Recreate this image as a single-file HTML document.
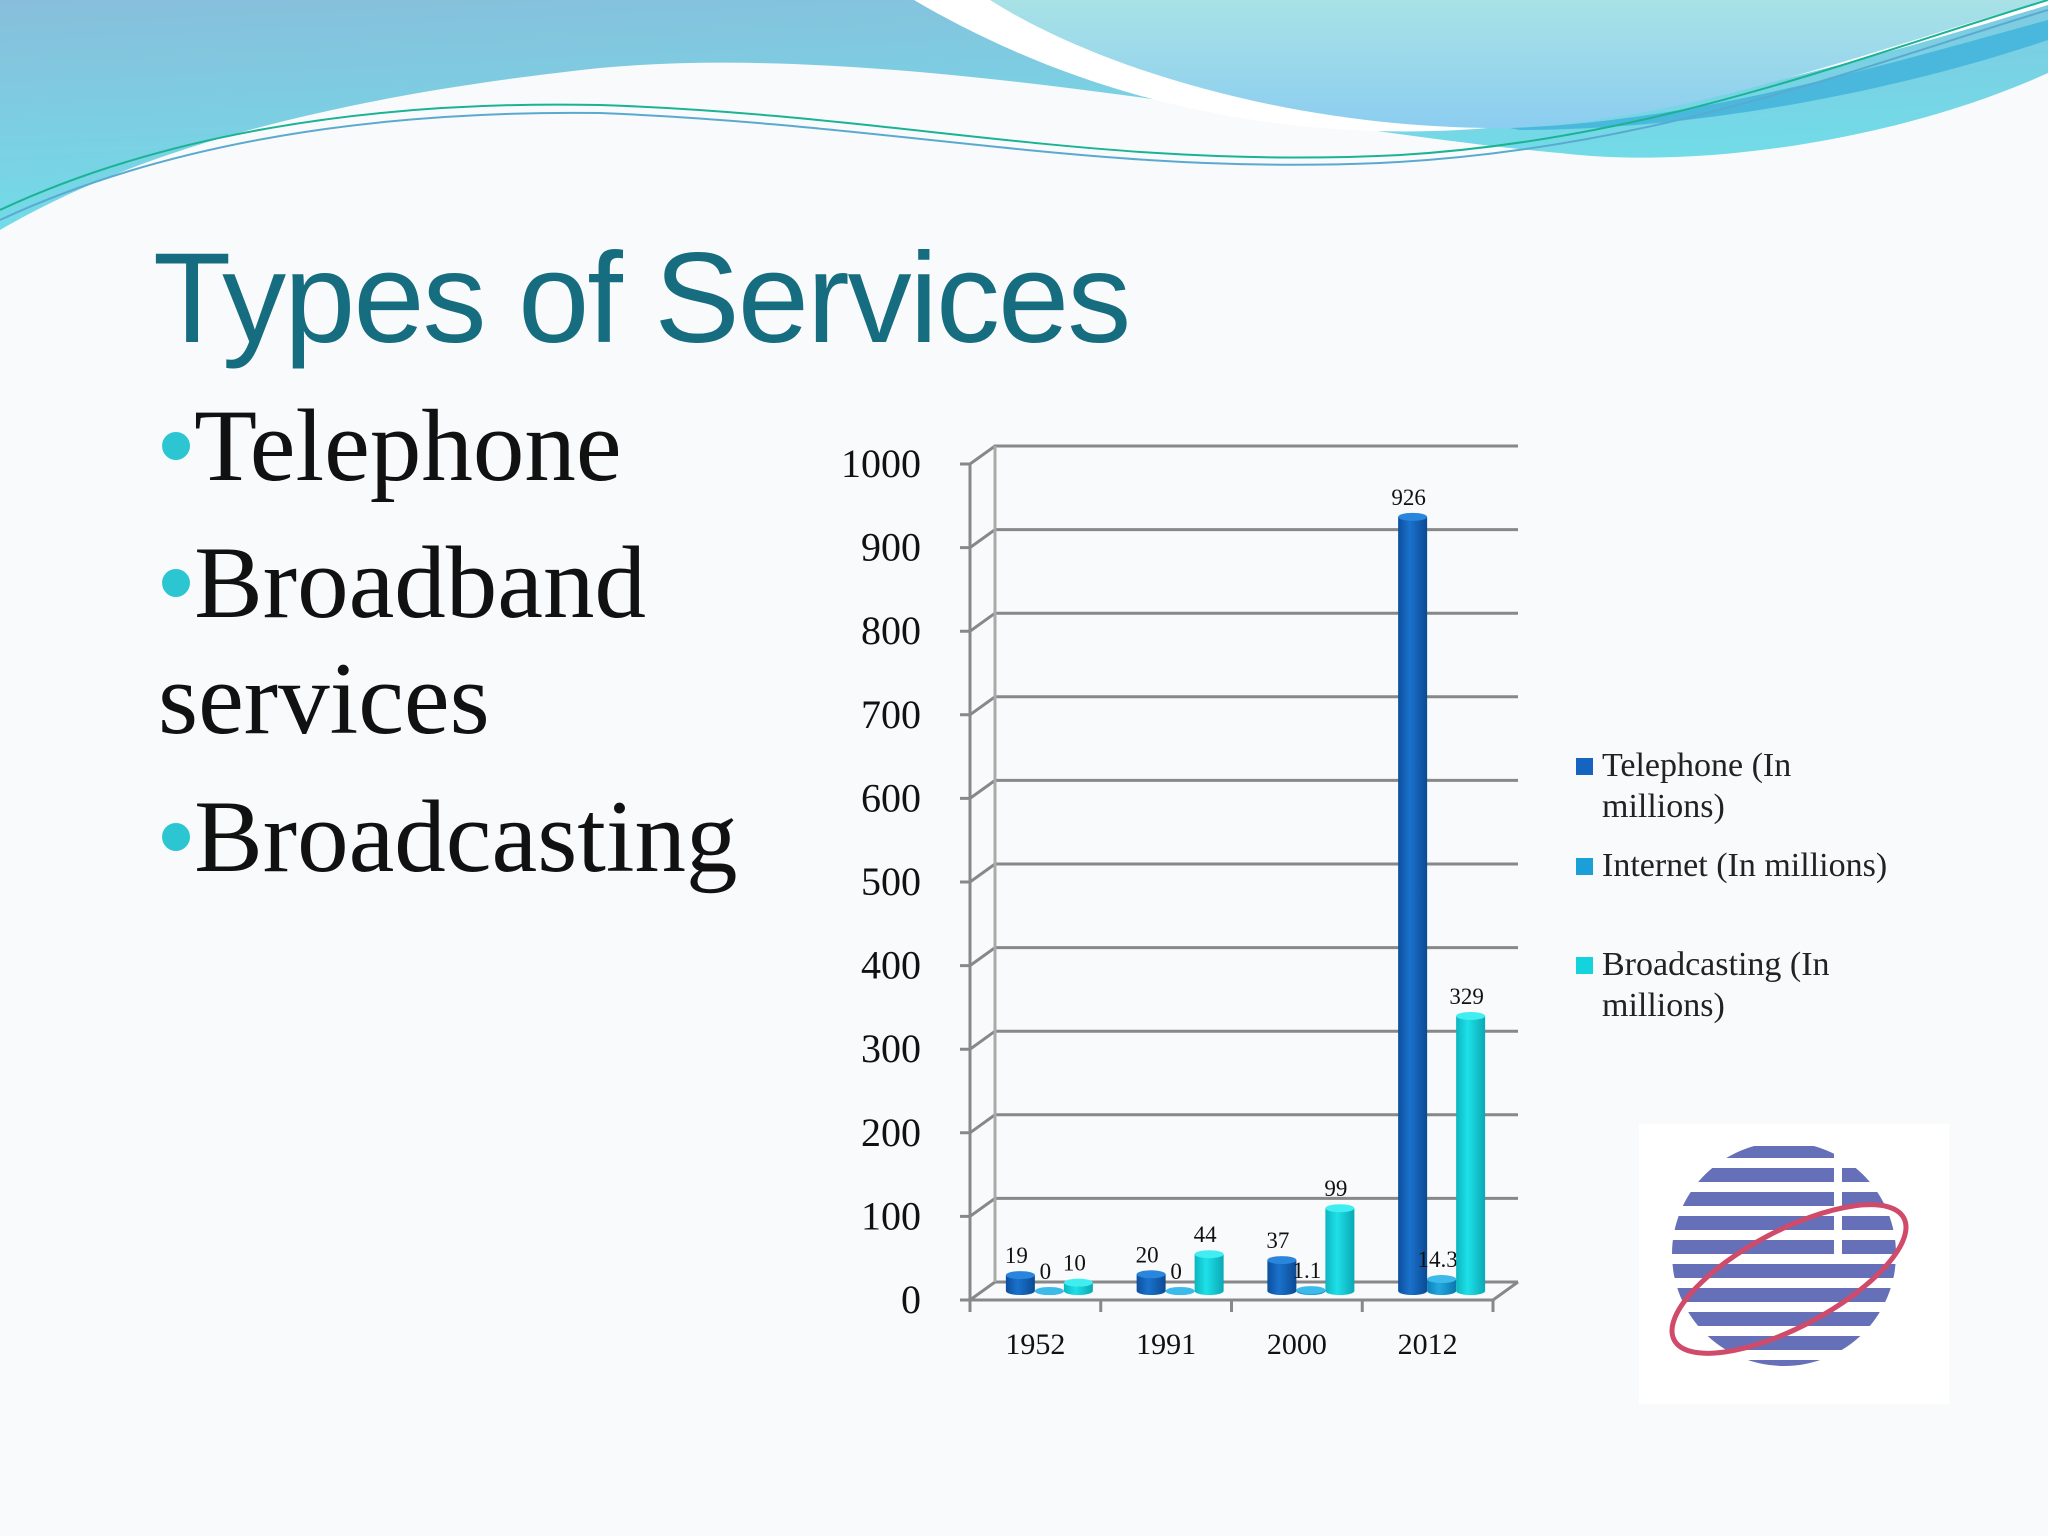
<!DOCTYPE html>
<html><head><meta charset="utf-8"><style>
html,body{margin:0;padding:0;}
body{width:2048px;height:1536px;overflow:hidden;background:#f9fafb;position:relative;font-family:"Liberation Serif",serif;}
.title{position:absolute;left:153px;top:225px;font-family:"Liberation Sans",sans-serif;font-size:128px;color:#176d80;letter-spacing:-2px;white-space:nowrap;}
.bul{position:absolute;left:158px;font-size:103px;color:#111;white-space:nowrap;line-height:1;}
.bul span{color:#2cc6d2;font-family:"Liberation Sans",sans-serif;}
</style></head><body>
<svg width="2048" height="260" style="position:absolute;left:0;top:0">
<defs>
<linearGradient id="hg" x1="0" y1="0" x2="0.4" y2="1"><stop offset="0" stop-color="#88bedb"/><stop offset="1" stop-color="#6fe0ea"/></linearGradient>
<linearGradient id="hg2" x1="0" y1="0" x2="0" y2="1"><stop offset="0" stop-color="#a8e2e6"/><stop offset="1" stop-color="#8ccdf0"/></linearGradient>
</defs>
<path d="M0 0 H2048 V73 C1900 140 1700 170 1560 153 C1300 130 900 40 600 68 C300 100 120 160 0 230 Z" fill="url(#hg)"/>
<path d="M914 0 C1050 80 1250 150 1500 127 C1700 110 1900 50 2048 5 V0 Z" fill="#fff"/>
<path d="M990 0 C1100 70 1300 130 1510 128 C1700 120 1900 40 2048 0 Z" fill="url(#hg2)"/>
<path d="M1510 128 C1700 122 1900 60 2048 20 V40 C1900 90 1700 130 1520 130 Z" fill="#4ab8dc"/>
<path d="M0 210 C150 140 350 100 600 105 C900 115 1100 170 1400 155 C1650 140 1850 60 2048 0" fill="none" stroke="#1ab394" stroke-width="2"/>
<path d="M0 220 C150 150 350 110 600 113 C900 125 1100 175 1380 163 C1650 150 1850 70 2048 10" fill="none" stroke="#5aaad0" stroke-width="2"/>
</svg>
<div class="title">Types of Services</div>
<div class="bul" style="top:393px"><span>•</span>Telephone</div>
<div class="bul" style="top:530px"><span>•</span>Broadband</div>
<div class="bul" style="top:648px;left:158px">services</div>
<div class="bul" style="top:784px"><span>•</span>Broadcasting</div>

<svg id="chart" width="2048" height="1536" style="position:absolute;left:0;top:0">
<defs>
<linearGradient id="g0" x1="0" x2="1"><stop offset="0" stop-color="#0d4f9e"/><stop offset="0.4" stop-color="#1a72cc"/><stop offset="1" stop-color="#0c4a94"/></linearGradient>
<linearGradient id="g1" x1="0" x2="1"><stop offset="0" stop-color="#0d80b8"/><stop offset="0.4" stop-color="#22a8e0"/><stop offset="1" stop-color="#0b78ae"/></linearGradient>
<linearGradient id="g2" x1="0" x2="1"><stop offset="0" stop-color="#0cb5c0"/><stop offset="0.4" stop-color="#1ee0e8"/><stop offset="1" stop-color="#0aa8b4"/></linearGradient>
</defs>
</svg>

<div style="position:absolute;left:1576px;top:745px;font-size:34px;color:#222;line-height:41px;">
<div style="position:absolute;top:0;left:0;width:380px"><span style="position:absolute;left:0;top:13px;width:17px;height:17px;background:#1565c0"></span><div style="margin-left:26px">Telephone (In<br>millions)</div></div>
<div style="position:absolute;top:100px;left:0;width:380px"><span style="position:absolute;left:0;top:13px;width:17px;height:17px;background:#1a9fd6"></span><div style="margin-left:26px;white-space:nowrap">Internet (In millions)</div></div>
<div style="position:absolute;top:199px;left:0;width:380px"><span style="position:absolute;left:0;top:13px;width:17px;height:17px;background:#13d3dc"></span><div style="margin-left:26px">Broadcasting (In<br>millions)</div></div>
</div>

<svg width="310" height="280" style="position:absolute;left:1639px;top:1124px">
<rect width="310" height="280" fill="#fff"/>
<defs><clipPath id="cc"><circle cx="145" cy="130" r="112"/></clipPath></defs>
<g clip-path="url(#cc)" fill="#6670b8">
<rect x="20" y="22" width="250" height="12"/><rect x="20" y="44" width="250" height="14"/><rect x="20" y="68" width="250" height="14"/><rect x="20" y="92" width="250" height="14"/><rect x="20" y="116" width="250" height="14"/><rect x="20" y="140" width="250" height="14"/><rect x="20" y="164" width="250" height="14"/><rect x="20" y="188" width="250" height="14"/><rect x="20" y="212" width="250" height="14"/><rect x="20" y="236" width="250" height="12"/>
</g>
<rect x="195" y="20" width="8" height="110" fill="#fff"/>
<ellipse cx="150" cy="155" rx="130" ry="48" transform="rotate(-28 150 155)" fill="none" stroke="#d04a6a" stroke-width="5"/>
</svg>

<script>
const categories = ["1952","1991","2000","2012"];
const telephone = [19,20,37,926];
const internet = [0,0,1.1,14.3];
const broadcasting = [10,44,99,329];
const telLabels = ["19","20","37","926"];
const intLabels = ["0","0","1.1","14.3"];
const brdLabels = ["10","44","99","329"];
const yTicks = [0,100,200,300,400,500,600,700,800,900,1000];

const NS="http://www.w3.org/2000/svg";
const svg=document.getElementById('chart');
const X0=970, X1=1493, Y0=1300, Y1=464, DX=25, DY=-18;
const yMax=1000;
function yScale(v){return Y0-(v/yMax)*(Y0-Y1);}
const bandW=(X1-X0)/categories.length;
function xBand(i){return X0+i*bandW;}
function mk(tag,attrs){const e=document.createElementNS(NS,tag);for(const k in attrs)e.setAttribute(k,attrs[k]);svg.appendChild(e);return e;}

yTicks.forEach(t=>{
  const y=yScale(t);
  let l=mk('polyline',{points:`${X0-10},${y} ${X0},${y} ${X0+DX},${y+DY} ${1518},${y+DY}`,fill:'none',stroke:'#888',"stroke-width":3});
  
  
  let tx=mk('text',{x:921,y:y+13,"text-anchor":"end","font-size":40,"font-family":"Liberation Serif, serif",fill:'#111'});
  tx.textContent=t;
  
  
});
mk('polyline',{points:`${X0+DX},${yScale(1000)+DY} ${X0+DX},${Y0+DY}`,fill:'none',stroke:'#aaa',"stroke-width":3});
let ya=mk('line',{x1:X0,y1:yScale(1000),x2:X0,y2:Y0+8,stroke:'#888',"stroke-width":3});


let fl=mk('polyline',{points:`${X0},${Y0} ${X1},${Y0} ${X1+DX},${Y0+DY}`,fill:'none',stroke:'#888',"stroke-width":3});


for(let i=0;i<=categories.length;i++){
  mk('line',{x1:xBand(i),y1:Y0,x2:xBand(i),y2:Y0+12,stroke:'#888',"stroke-width":3});
}
categories.forEach((c,i)=>{
  let t=mk('text',{x:xBand(i)+bandW/2,y:1354,"text-anchor":"middle","font-size":30,"font-family":"Liberation Serif, serif",fill:'#111'});
  t.textContent=c;
  
  
});

const series=[telephone,internet,broadcasting];
const labels=[telLabels,intLabels,brdLabels];
const names=['telephone','internet','broadcasting'];
const bw=29, base=Y0-9;
series.forEach((s,si)=>{
  s.forEach((v,i)=>{
    const x=xBand(i)+bandW/2-bw*1.5+14+si*bw;
    const top=base-(v/yMax)*(Y0-Y1);
    const g=document.createElementNS(NS,'g');
    
    
    svg.appendChild(g);
    const r=document.createElementNS(NS,'path');
    r.setAttribute('d',`M${x} ${top} V${base} A${bw/2} 4 0 0 0 ${x+bw} ${base} V${top} Z`);
    r.setAttribute('fill',`url(#g${si})`);
    g.appendChild(r);
    const e=document.createElementNS(NS,'ellipse');
    e.setAttribute('cx',x+bw/2);e.setAttribute('cy',top);e.setAttribute('rx',bw/2);e.setAttribute('ry',4);
    e.setAttribute('fill',['#2a86dc','#3cbaea','#40eef2'][si]);
    g.appendChild(e);
    const t=mk('text',{x:x+bw/2-4,y:top-12,"text-anchor":"middle","font-size":23,"font-family":"Liberation Serif, serif",fill:'#111'});
    t.textContent=labels[si][i];
    
    
  });
});
</script>
</body></html>
